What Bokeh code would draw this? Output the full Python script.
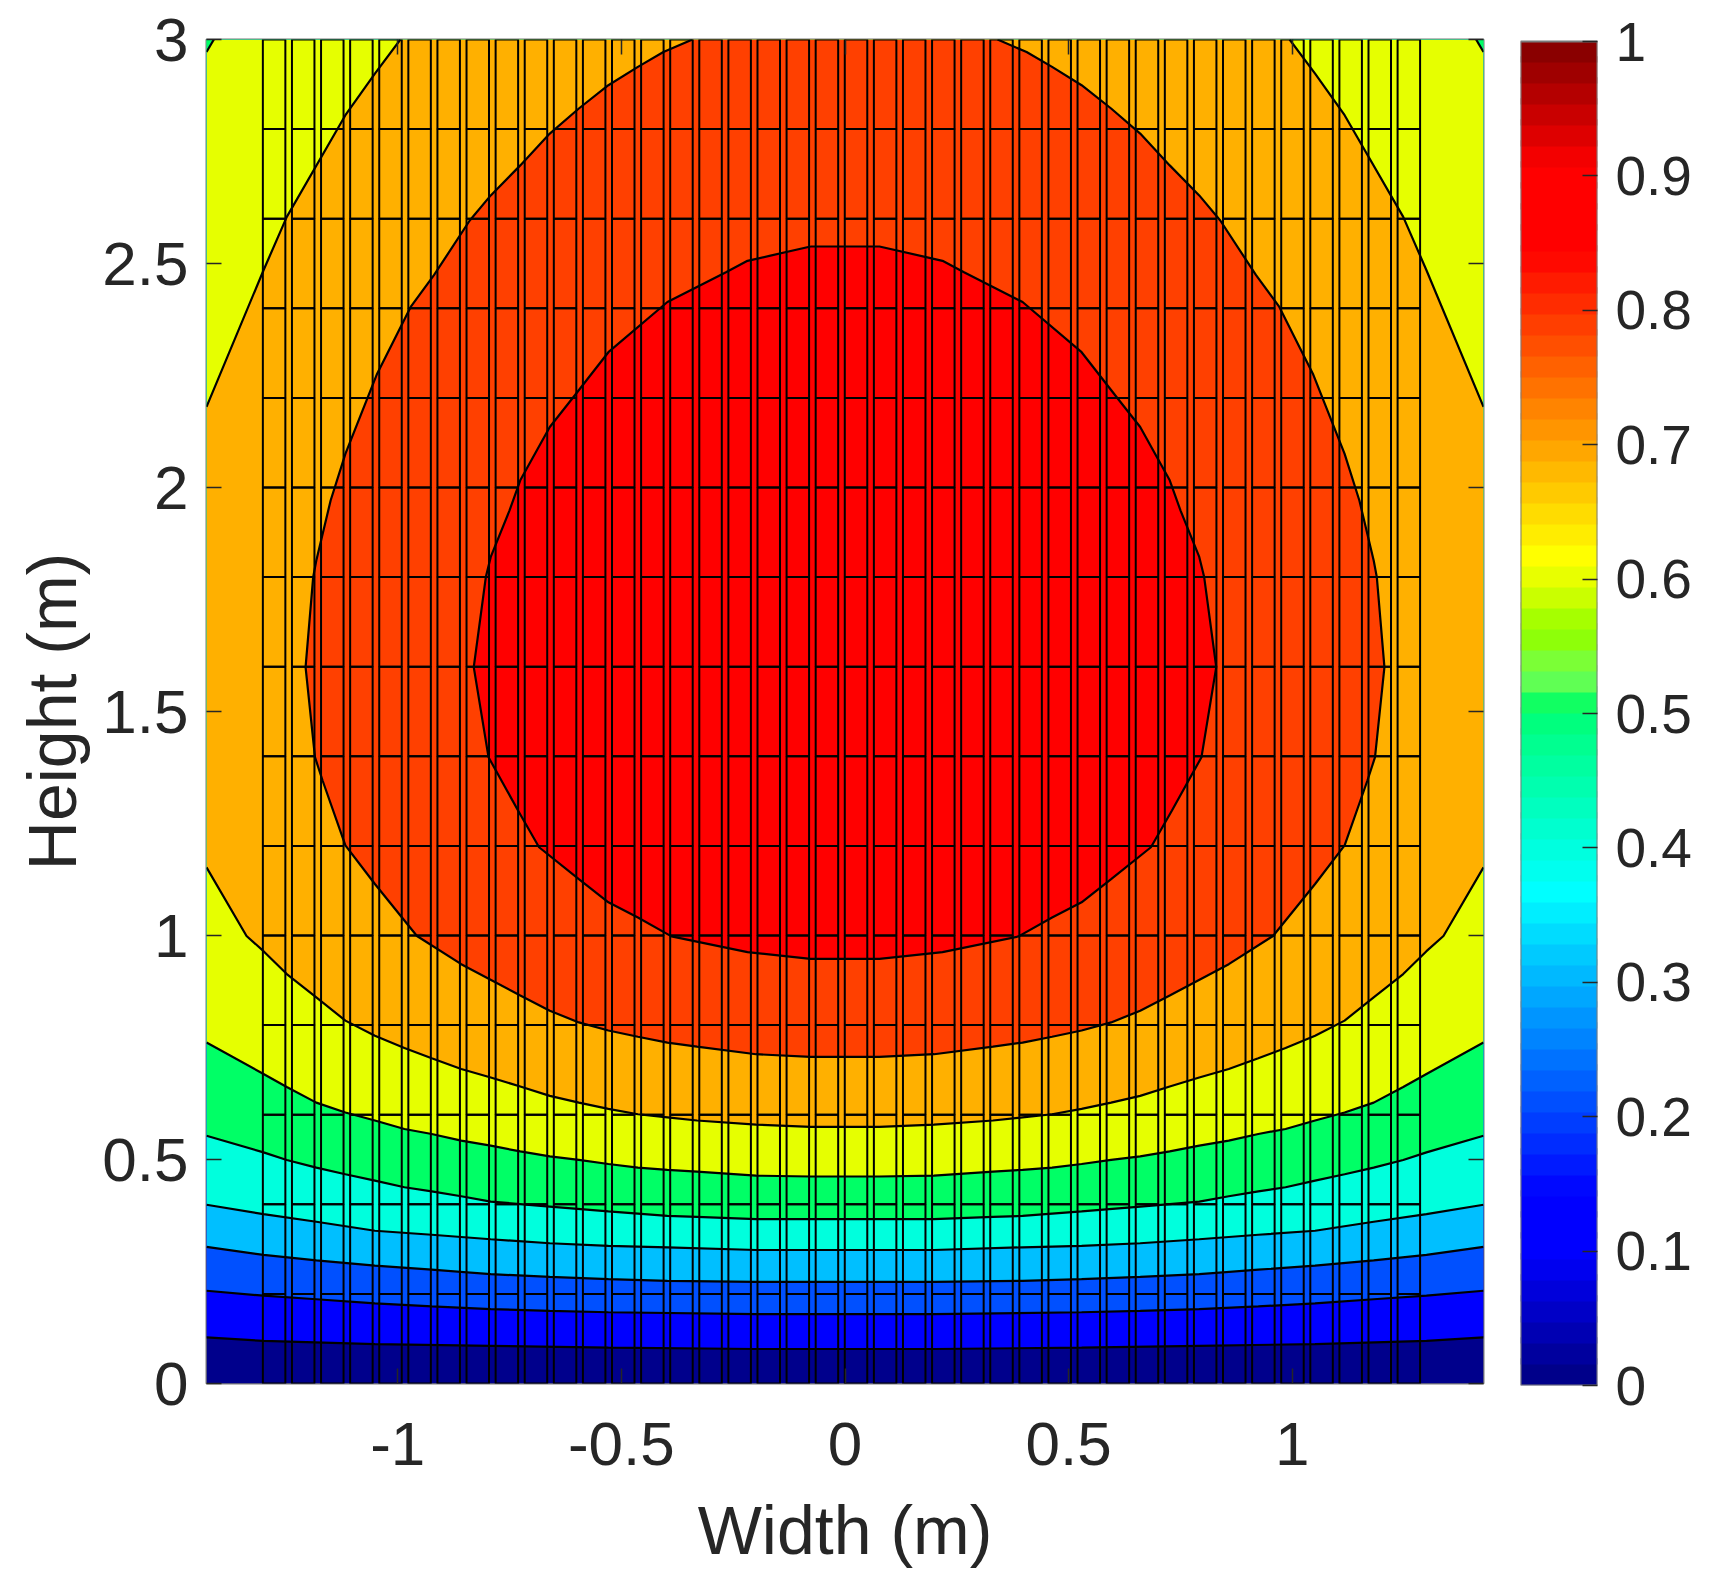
from bokeh.plotting import figure
from bokeh.models import Range1d, LinearAxis, FixedTicker
from bokeh.layouts import row
from bokeh.embed import file_html
from bokeh.resources import INLINE

# ---- values ----
x_ticks = [-1, -0.5, 0, 0.5, 1]
x_tick_labels = ["-1", "-0.5", "0", "0.5", "1"]
y_ticks = [0, 0.5, 1, 1.5, 2, 2.5, 3]
y_tick_labels = ["0", "0.5", "1", "1.5", "2", "2.5", "3"]
cb_ticks = [0, 0.1, 0.2, 0.3, 0.4, 0.5, 0.6, 0.7, 0.8, 0.9, 1]
cb_tick_labels = ["0", "0.1", "0.2", "0.3", "0.4", "0.5", "0.6", "0.7", "0.8", "0.9", "1"]

X_EDGE = 1.4275
Y_TOP = 3.0

# Left halves of the contours; the field is mirrored about x = 0
c01_x = [-1.4275, -1.30, -1.051, -0.792, -0.529, -0.199]
c01_y = [0.103, 0.095, 0.088, 0.084, 0.080, 0.077]
c02_x = [-1.4275, -1.30, -1.182, -1.051, -0.924, -0.792, -0.66, -0.529, -0.199]
c02_y = [0.207, 0.196, 0.188, 0.179, 0.172, 0.166, 0.162, 0.159, 0.155]
c03_x = [-1.4275, -1.30, -1.182, -1.051, -0.924, -0.792, -0.66, -0.529, -0.397, -0.199]
c03_y = [0.305, 0.287, 0.275, 0.263, 0.254, 0.244, 0.238, 0.233, 0.229, 0.227]
c04_x = [-1.4275, -1.30, -1.182, -1.051, -0.924, -0.792, -0.66, -0.529, -0.397, -0.199]
c04_y = [0.399, 0.378, 0.361, 0.341, 0.332, 0.322, 0.313, 0.307, 0.304, 0.298]
c05_x = [-1.4275, -1.30, -1.248, -1.182, -1.117, -1.051, -0.985, -0.924, -0.858, -0.792,
         -0.66, -0.529, -0.397, -0.331, -0.199, -0.077]
c05_y = [0.553, 0.516, 0.499, 0.482, 0.467, 0.453, 0.438, 0.429, 0.418, 0.406,
         0.395, 0.384, 0.374, 0.372, 0.367, 0.367]
c06_x = [-1.4275, -1.30, -1.248, -1.182, -1.117, -1.051, -0.985, -0.924, -0.858, -0.792,
         -0.726, -0.66, -0.595, -0.529, -0.463, -0.397, -0.331, -0.199, -0.077]
c06_y = [0.761, 0.691, 0.662, 0.627, 0.605, 0.587, 0.568, 0.557, 0.542, 0.531,
         0.518, 0.507, 0.499, 0.490, 0.482, 0.477, 0.473, 0.464, 0.462]
c07_low_x = [-1.4275, -1.338, -1.30, -1.248, -1.182, -1.117, -1.051, -0.985, -0.924, -0.858,
             -0.792, -0.726, -0.66, -0.595, -0.529, -0.463, -0.397, -0.331, -0.199, -0.077]
c07_low_y = [1.152, 0.999, 0.965, 0.914, 0.862, 0.81, 0.776, 0.749, 0.726, 0.702,
             0.683, 0.663, 0.642, 0.627, 0.613, 0.601, 0.594, 0.587, 0.578, 0.573]
c07_top_x = [-1.4275, -1.30, -1.248, -1.117, -1.051, -0.994]
c07_top_y = [2.18, 2.485, 2.604, 2.831, 2.924, 3.0]
c08_x = [-0.341, -0.406, -0.463, -0.529, -0.595, -0.66, -0.726, -0.792, -0.839, -0.919,
         -0.971, -1.046, -1.117, -1.150, -1.182, -1.189, -1.206, -1.185, -1.168, -1.117,
         -1.051, -0.957, -0.858, -0.726, -0.66, -0.595, -0.529, -0.463, -0.397, -0.331,
         -0.199, -0.077]
c08_y = [3.0, 2.972, 2.939, 2.898, 2.846, 2.79, 2.719, 2.652, 2.596, 2.474,
         2.403, 2.254, 2.075, 1.971, 1.837, 1.80, 1.599, 1.398, 1.346, 1.201,
         1.115, 0.999, 0.936, 0.866, 0.832, 0.806, 0.788, 0.774, 0.761, 0.752,
         0.735, 0.729]
c09_x = [-0.077, -0.218, -0.265, -0.397, -0.529, -0.604, -0.66, -0.726, -0.75, -0.792,
         -0.803, -0.83, -0.797, -0.731, -0.684, -0.595, -0.529, -0.463, -0.388, -0.218,
         -0.077]
c09_y = [2.538, 2.506, 2.481, 2.414, 2.302, 2.206, 2.135, 2.016, 1.949, 1.845,
         1.80, 1.599, 1.398, 1.279, 1.197, 1.126, 1.074, 1.040, 0.998, 0.963,
         0.948]
corner_x = [-1.4275, -1.4275, -1.411]
corner_y = [2.972, 3.0, 3.0]

band_colors = ["#00008C", "#0000FF", "#0050FF", "#00BFFF", "#00FFDD",
               "#00FF66", "#E6FF00", "#FFB000", "#FF4000", "#FF0000"]

# Colour-bar anchors
cb_anchor_t = [0, 0.098, 0.141, 0.367, 0.49, 0.505, 0.52, 0.537, 0.553, 0.57, 0.585, 0.60, 0.617, 0.844, 0.905, 1]
cb_anchor_r = [0, 0, 0, 0, 0, 0, 90, 120, 140, 165, 200, 230, 255, 255, 255, 128]
cb_anchor_g = [0, 0, 0, 255, 255, 255, 255, 255, 255, 255, 255, 255, 255, 0, 0, 0]
cb_anchor_b = [128, 255, 255, 255, 130, 100, 90, 60, 10, 0, 0, 0, 0, 0, 0, 0]

# Rectangular cell grid overlaid on the field
grid_left = -1.3015
cell_w = 0.0503
cell_gap = 0.01475
n_cols = 40
row_edges = [0, 0.2, 0.4, 0.6, 0.8, 1.0, 1.2, 1.4, 1.6, 1.8, 2.0, 2.2, 2.4, 2.6, 2.8, 3.0]

FONT = "Liberation Sans"
INK = "#262626"
BOX = "#7a7a7a"


def full_x(xs):
    return xs + [-v for v in reversed(xs)]


def full_y(ys):
    return ys + list(reversed(ys))


def interp(t, ts, vs):
    for i in range(len(ts) - 1):
        if ts[i] <= t <= ts[i + 1]:
            return vs[i] + (vs[i + 1] - vs[i]) * (t - ts[i]) / (ts[i + 1] - ts[i])
    return vs[-1]


def bar_colors(n):
    out = []
    for i in range(n):
        t = (i + 0.5) / n
        out.append("#%02x%02x%02x" % (round(interp(t, cb_anchor_t, cb_anchor_r)),
                                       round(interp(t, cb_anchor_t, cb_anchor_g)),
                                       round(interp(t, cb_anchor_t, cb_anchor_b))))
    return out


p = figure(frame_width=1277, frame_height=1344,
           x_range=Range1d(-X_EDGE, X_EDGE), y_range=Range1d(0, Y_TOP),
           output_backend="svg", toolbar_location=None,
           min_border_left=206, min_border_right=10, min_border_top=39, min_border_bottom=190,
           background_fill_color="white", border_fill_color="white")
p.grid.visible = False
p.outline_line_color = BOX
p.outline_line_width = 2

# filled bands, painted from lowest to highest
p.quad(left=[-X_EDGE], right=[X_EDGE], bottom=[0], top=[Y_TOP],
       fill_color=band_colors[0], line_color=None)
lower = [(c01_x, c01_y), (c02_x, c02_y), (c03_x, c03_y), (c04_x, c04_y), (c05_x, c05_y), (c06_x, c06_y)]
for (cx, cy), col in zip(lower, band_colors[1:7]):
    p.patch(full_x(cx) + [X_EDGE, -X_EDGE], full_y(cy) + [Y_TOP, Y_TOP],
            fill_color=col, line_color=None)
p.patch(corner_x, corner_y, fill_color=band_colors[5], line_color=None)
p.patch([-v for v in corner_x], corner_y, fill_color=band_colors[5], line_color=None)

orange_x = c07_low_x + [-v for v in reversed(c07_low_x)] + [-v for v in c07_top_x] + list(reversed(c07_top_x))
orange_y = c07_low_y + list(reversed(c07_low_y)) + c07_top_y + list(reversed(c07_top_y))
p.patch(orange_x, orange_y, fill_color=band_colors[7], line_color=None)
p.patch(c08_x + [-v for v in reversed(c08_x)], full_y(c08_y), fill_color=band_colors[8], line_color=None)
p.patch(c09_x + [-v for v in reversed(c09_x)], full_y(c09_y), fill_color=band_colors[9], line_color=None)

# contour lines
LW = 2.2
for cx, cy in lower + [(c07_low_x, c07_low_y), (c08_x, c08_y)]:
    p.line(full_x(cx), full_y(cy), line_color="black", line_width=LW)
p.line(full_x(c09_x) + [c09_x[0]], full_y(c09_y) + [c09_y[0]], line_color="black", line_width=LW)
for cx, cy in [(c07_top_x, c07_top_y), (corner_x[::2], corner_y[::2])]:
    p.line(cx, cy, line_color="black", line_width=LW)
    p.line([-v for v in cx], cy, line_color="black", line_width=LW)

# grid of cells
lefts, rights, bottoms, tops = [], [], [], []
for c in range(n_cols):
    l = grid_left + c * (cell_w + cell_gap)
    for b, t in zip(row_edges[:-1], row_edges[1:]):
        lefts.append(l)
        rights.append(l + cell_w)
        bottoms.append(b)
        tops.append(t)
p.quad(left=lefts, right=rights, bottom=bottoms, top=tops,
       fill_color=None, line_color="black", line_width=2)


def style(ax, ticks, labels, show_text=True, size="62px"):
    ax.ticker = FixedTicker(ticks=ticks)
    ax.major_label_overrides = {t: (s if show_text else "") for t, s in zip(ticks, labels)}
    ax.major_tick_in = 15
    ax.major_tick_out = 0
    ax.minor_tick_line_color = None
    ax.major_tick_line_color = INK
    ax.major_tick_line_width = 1.5
    ax.axis_line_color = None
    ax.major_label_text_font = FONT
    ax.major_label_text_font_size = size
    ax.major_label_text_color = INK
    ax.axis_label_text_font = FONT
    ax.axis_label_text_font_size = "68px"
    ax.axis_label_text_font_style = "normal"
    ax.axis_label_text_color = INK


style(p.xaxis[0], x_ticks, x_tick_labels)
style(p.yaxis[0], y_ticks, y_tick_labels)
p.xaxis[0].axis_label = "Width (m)"
p.yaxis[0].axis_label = "Height (m)"
p.xaxis[0].major_label_standoff = 39
p.yaxis[0].major_label_standoff = 18
p.xaxis[0].axis_label_standoff = 24
p.yaxis[0].axis_label_standoff = 9

top_ax = LinearAxis()
right_ax = LinearAxis()
style(top_ax, x_ticks, x_tick_labels, show_text=False)
style(right_ax, y_ticks, y_tick_labels, show_text=False)
top_ax.major_label_text_font_size = "1px"
right_ax.major_label_text_font_size = "1px"
top_ax.major_label_standoff = 0
right_ax.major_label_standoff = 0
p.add_layout(top_ax, "above")
p.add_layout(right_ax, "right")

# colour bar: the frame runs 2px higher than the bar, so the bar starts level with the reference
cb_colors = bar_colors(64)
cb_n = len(cb_colors)
p2 = figure(frame_width=77, frame_height=1346,
            x_range=Range1d(0, 1), y_range=Range1d(0, 1 + 2 / 1344),
            output_backend="svg", toolbar_location=None, y_axis_location="right",
            min_border_left=27, min_border_right=120, min_border_top=39, min_border_bottom=188,
            background_fill_color="white", border_fill_color="white")
p2.grid.visible = False
p2.xaxis.visible = False
p2.outline_line_color = None
p2.quad(left=[0] * cb_n, right=[1] * cb_n,
        bottom=[i / cb_n for i in range(cb_n)], top=[min(1, (i + 1.3) / cb_n) for i in range(cb_n)],
        fill_color=cb_colors, line_color=None)
p2.quad(left=[0], right=[1], bottom=[0], top=[1], fill_color=None, line_color=BOX, line_width=2)
style(p2.yaxis[0], cb_ticks, cb_tick_labels, size="55px")
p2.yaxis[0].major_label_standoff = 18

layout = row(p, p2, spacing=0)
open("out.html", "w").write(file_html(layout, INLINE))
